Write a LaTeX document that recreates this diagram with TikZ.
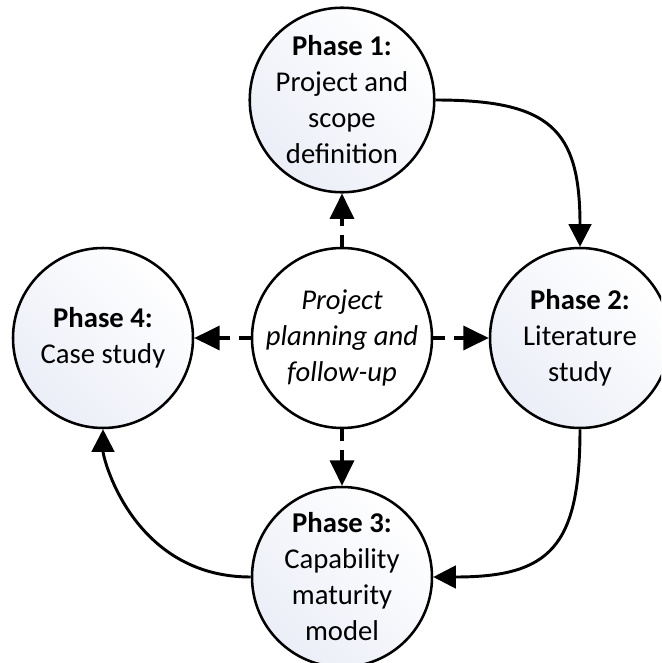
\documentclass[tikz,border=0pt]{standalone}
\usepackage{fontspec}
\setmainfont{Carlito}
\usetikzlibrary{arrows.meta}
\definecolor{phasetint}{HTML}{EBEEF7}
\begin{document}
\begin{tikzpicture}[x=0.75pt,y=-0.75pt,
  every node/.style={font=\fontsize{21.5}{27}\selectfont},
  phase/.style={circle, draw=black, line width=1.9pt, minimum size=135pt,
    inner sep=0pt, align=center, top color=white, bottom color=phasetint,
    shading angle=-45},
  hub/.style={circle, draw=black, line width=1.9pt, minimum size=135pt,
    inner sep=0pt, align=center, fill=white,
    font=\fontsize{21.5}{27}\selectfont\itshape},
  flow/.style={line width=2.2pt, -{Triangle[length=17pt,width=17pt]}},
  link/.style={line width=2.5pt, dash pattern=on 9pt off 6.5pt,
    -{Triangle[length=19pt,width=18pt]}}
]
\useasboundingbox (0,0) rectangle (661,663);
\clip (0,0) rectangle (661,663);

% the four phases around the planning hub
\node[phase] (p1) at (342,100) {\textbf{Phase 1:}\\Project and\\scope\\definition};
\node[phase] (p2) at (580,338) {\textbf{Phase 2:}\\Literature\\study};
\node[phase] (p3) at (342,577) {\textbf{Phase 3:}\\Capability\\maturity\\model};
\node[phase] (p4) at (103,338) {\textbf{Phase 4:}\\Case study};
\node[hub] (hub) at (342,338) {Project\\planning and\\follow-up};

% planning feeds every phase
\draw[link] (hub.north) -- (p1.south);
\draw[link] (hub.east) -- (p2.west);
\draw[link] (hub.south) -- (p3.north);
\draw[link] (hub.west) -- (p4.east);

% phase sequence
\draw[flow] (p1.east) .. controls (550,100) and (580,129) .. (p2.north);
\draw[flow] (p2.south) .. controls (580,547) and (550,577) .. (p3.east);
\draw[flow] (p3.west) .. controls (133,577) and (103,458) .. (p4.south);
\end{tikzpicture}
\end{document}
